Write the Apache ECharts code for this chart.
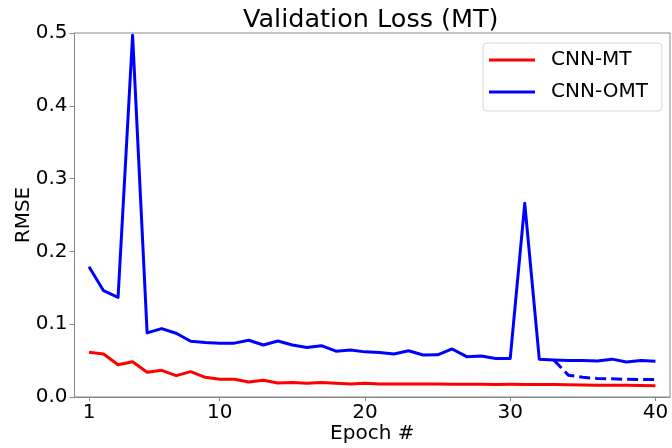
<!DOCTYPE html>
<html>
<head>
<meta charset="utf-8">
<script src="https://cdn.jsdelivr.net/npm/echarts@6/dist/echarts.min.js"></script>
<style>
    html, body { margin: 0; padding: 0; background: #fff; }
    #chart { width: 672px; height: 448px; }
</style>
</head>
<body>
<div id="chart"></div>
<script>
// values
const epochs = [1, 2, 3, 4, 5, 6, 7, 8, 9, 10, 11, 12, 13, 14, 15, 16, 17, 18, 19, 20,
    21, 22, 23, 24, 25, 26, 27, 28, 29, 30, 31, 32, 33, 34, 35, 36, 37, 38, 39, 40]
const cnnMT = [0.0614, 0.059, 0.0444, 0.0485, 0.034, 0.0366, 0.0293, 0.0348, 0.027, 0.0243,
    0.0243, 0.0206, 0.023, 0.0192, 0.020, 0.0188, 0.020, 0.019, 0.018, 0.0188,
    0.018, 0.018, 0.018, 0.018, 0.0178, 0.0175, 0.0174, 0.0174, 0.0172, 0.0174,
    0.0172, 0.0172, 0.017, 0.0168, 0.0165, 0.0163, 0.0163, 0.016, 0.0158, 0.0155]
const cnnOMT = [0.179, 0.146, 0.137, 0.497, 0.088, 0.094, 0.0875, 0.0765, 0.075, 0.074,
    0.074, 0.078, 0.0714, 0.077, 0.0714, 0.068, 0.0705, 0.063, 0.0645, 0.062,
    0.061, 0.059, 0.0636, 0.0577, 0.058, 0.066, 0.0554, 0.0563, 0.053, 0.053,
    0.266, 0.052, 0.0508, 0.050, 0.050, 0.0496, 0.052, 0.048, 0.050, 0.049]
// dashed tail of CNN-OMT, epochs 33..40
const tailEpochs = [33, 34, 35, 36, 37, 38, 39, 40]
const cnnOMTTail = [0.0508, 0.030, 0.027, 0.0255, 0.025, 0.0243, 0.024, 0.024]
const xTicks = [1, 10, 20, 30, 40]

const pairs = (xs, ys) => xs.map((x, i) => [x, ys[i]])

const font = 'DejaVu Sans'
const chart = echarts.init(document.getElementById('chart'))

chart.setOption({
    animation: false,
    textStyle: { fontFamily: font },
    title: {
        text: 'Validation Loss (MT)',
        left: 243,
        top: 7,
        padding: 0,
        textStyle: { fontFamily: font, fontSize: 25.5, fontWeight: 'normal', color: '#000' }
    },
    grid: {
        left: 74.5,
        right: 2,
        top: 33,
        bottom: 51,
        outerBoundsMode: 'none',
        show: true,
        borderColor: '#888',
        borderWidth: 1
    },
    legend: {
        data: ['CNN-MT', 'CNN-OMT'],
        orient: 'vertical',
        left: 483,
        top: 43,
        icon: 'rect',
        itemWidth: 46,
        itemHeight: 3,
        itemGap: 12,
        padding: [7, 14, 9, 6],
        backgroundColor: '#fff',
        borderColor: '#d6d6d6',
        borderWidth: 1,
        borderRadius: 4,
        textStyle: { fontFamily: font, fontSize: 20, lineHeight: 20, color: '#000', padding: [0, 0, 0, 11] }
    },
    xAxis: {
        type: 'value',
        min: 0,
        max: 41,
        name: 'Epoch #',
        nameLocation: 'middle',
        nameGap: 27,
        nameMoveOverlap: false,
        nameTextStyle: { fontFamily: font, fontSize: 20, color: '#000' },
        splitLine: { show: false },
        axisLine: { lineStyle: { color: '#888' } },
        axisTick: { show: true, length: 4, customValues: xTicks, lineStyle: { color: '#888' } },
        axisLabel: { customValues: xTicks, margin: 6, fontFamily: font, fontSize: 20, color: '#000' }
    },
    yAxis: {
        type: 'value',
        min: 0,
        max: 0.5,
        interval: 0.1,
        name: 'RMSE',
        nameLocation: 'middle',
        nameGap: 41,
        nameMoveOverlap: false,
        nameTextStyle: { fontFamily: font, fontSize: 20, color: '#000' },
        splitLine: { show: false },
        axisLine: { show: true, lineStyle: { color: '#888' } },
        axisTick: { show: true, length: 5, lineStyle: { color: '#888' } },
        axisLabel: {
            margin: 7,
            fontFamily: font,
            fontSize: 20,
            color: '#000',
            formatter: v => v.toFixed(1)
        }
    },
    series: [
        {
            name: 'CNN-MT',
            type: 'line',
            data: pairs(epochs, cnnMT),
            symbol: 'none',
            color: '#ff0000',
            lineStyle: { width: 3, color: '#ff0000', join: 'round' }
        },
        {
            name: 'CNN-OMT',
            type: 'line',
            data: pairs(epochs, cnnOMT),
            symbol: 'none',
            color: '#0000ff',
            lineStyle: { width: 3, color: '#0000ff', join: 'round' }
        },
        {
            name: 'CNN-OMT tail',
            type: 'line',
            data: pairs(tailEpochs, cnnOMTTail),
            symbol: 'none',
            color: '#0000ff',
            lineStyle: { width: 3, color: '#0000ff', type: [11, 5], join: 'round' }
        }
    ]
})
</script>
</body>
</html>
